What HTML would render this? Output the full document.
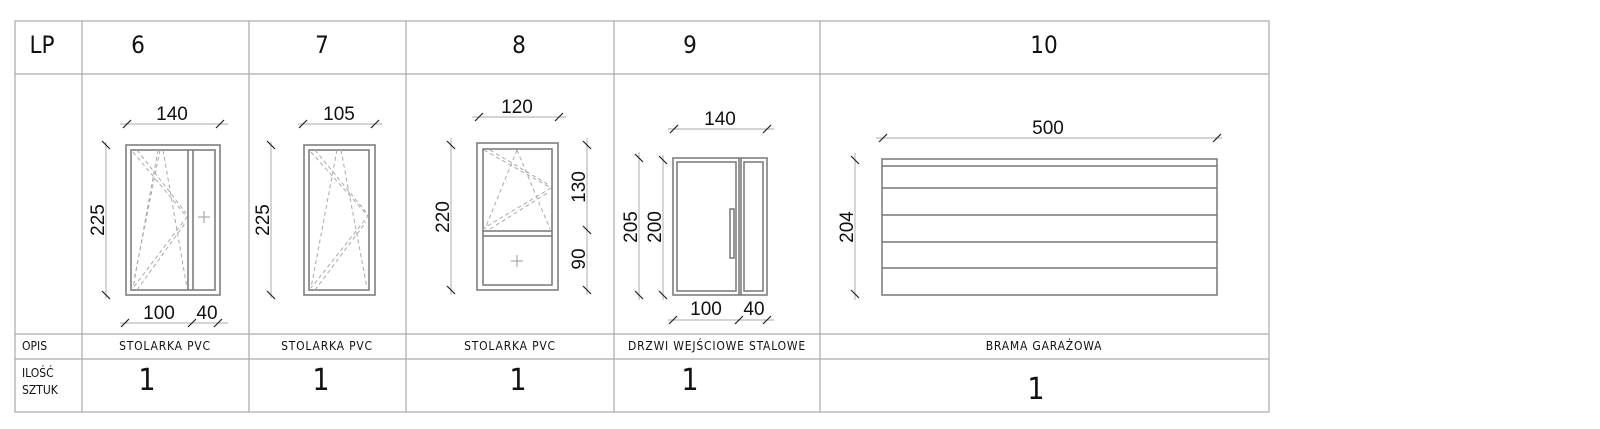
<!DOCTYPE html>
<html><head><meta charset="utf-8"><style>
html,body{margin:0;padding:0;background:#fff;}
svg{display:block}
text{font-family:"DejaVu Sans Condensed","Liberation Sans Narrow","DejaVu Sans",sans-serif;fill:#111}
.d{font-family:"Liberation Sans",sans-serif;font-size:19px;fill:#111}
.g{stroke:#aaa;stroke-width:1.2;fill:none}
.dl{stroke:#bbb;stroke-width:1.2;fill:none}
.t{stroke:#222;stroke-width:1.2}
.w{stroke:#777;stroke-width:1.5;fill:none}
.ds{stroke:#aaa;stroke-width:1;stroke-dasharray:4 3;fill:none}
</style></head><body>
<svg width="1600" height="429" viewBox="0 0 1600 429" xmlns="http://www.w3.org/2000/svg">
<rect x="15" y="21" width="1254" height="391" class="g"/>
<line x1="15" y1="74" x2="1269" y2="74" class="g"/>
<line x1="15" y1="334" x2="1269" y2="334" class="g"/>
<line x1="15" y1="359" x2="1269" y2="359" class="g"/>
<line x1="82" y1="21" x2="82" y2="412" class="g"/>
<line x1="249" y1="21" x2="249" y2="412" class="g"/>
<line x1="406" y1="21" x2="406" y2="412" class="g"/>
<line x1="614" y1="21" x2="614" y2="412" class="g"/>
<line x1="820" y1="21" x2="820" y2="412" class="g"/>

<g font-size="24" text-anchor="middle">
<text x="42" y="53">LP</text>
<text x="138" y="53">6</text>
<text x="322" y="53">7</text>
<text x="519" y="53">8</text>
<text x="690" y="53">9</text>
<text x="1044" y="53">10</text>
</g>
<g font-size="12">
<text x="22" y="350">OPIS</text>
<text x="22" y="377">ILOŚĆ</text>
<text x="22" y="394">SZTUK</text>
</g>
<g font-size="12" text-anchor="middle" letter-spacing="0.8">
<text x="165" y="350">STOLARKA PVC</text>
<text x="327" y="350">STOLARKA PVC</text>
<text x="510" y="350">STOLARKA PVC</text>
<text x="717" y="350">DRZWI WEJŚCIOWE STALOWE</text>
<text x="1044" y="350">BRAMA GARAŻOWA</text>
</g>
<g font-size="30" text-anchor="middle">
<text x="147" y="390">1</text>
<text x="321" y="390">1</text>
<text x="518" y="390">1</text>
<text x="690" y="390">1</text>
<text x="1036" y="399">1</text>
</g>

<!-- COL 6 -->
<line x1="120" y1="124" x2="228" y2="124" class="dl"/>
<line x1="123" y1="128" x2="131" y2="120" class="t"/><line x1="216" y1="128" x2="224" y2="120" class="t"/>
<text x="172" y="120" class="d" text-anchor="middle">140</text>
<line x1="106" y1="142" x2="106" y2="298" class="dl"/>
<line x1="102" y1="141" x2="110" y2="149" class="t"/><line x1="102" y1="291" x2="110" y2="299" class="t"/>
<text class="d" text-anchor="middle" transform="translate(104,220) rotate(-90)">225</text>
<rect x="126" y="145" width="94" height="150" class="w"/>
<rect x="131" y="150" width="84" height="140" class="w" stroke-width="1.2"/>
<line x1="188" y1="150" x2="188" y2="290" class="w" stroke-width="1.2"/>
<line x1="193" y1="150" x2="193" y2="290" class="w" stroke-width="1.2"/>
<line x1="198" y1="217" x2="210" y2="217" stroke="#999"/><line x1="204" y1="211" x2="204" y2="223" stroke="#999"/>
<path d="M158 150 L133 288 M163 150 L187 288 M133 152 L187 217 L133 288 M137 150 L186 213 M137 290 L186 222 M160 150 L134 280" class="ds"/>
<line x1="120" y1="323" x2="228" y2="323" class="dl"/>
<line x1="121" y1="327" x2="129" y2="319" class="t"/><line x1="188" y1="327" x2="196" y2="319" class="t"/><line x1="214" y1="327" x2="222" y2="319" class="t"/>
<text x="159" y="319" class="d" text-anchor="middle">100</text>
<text x="207" y="319" class="d" text-anchor="middle">40</text>

<!-- COL 7 -->
<line x1="298" y1="124" x2="382" y2="124" class="dl"/>
<line x1="299" y1="128" x2="307" y2="120" class="t"/><line x1="371" y1="128" x2="379" y2="120" class="t"/>
<text x="339" y="120" class="d" text-anchor="middle">105</text>
<line x1="271" y1="142" x2="271" y2="298" class="dl"/>
<line x1="267" y1="141" x2="275" y2="149" class="t"/><line x1="267" y1="291" x2="275" y2="299" class="t"/>
<text class="d" text-anchor="middle" transform="translate(269,220) rotate(-90)">225</text>
<rect x="304" y="145" width="71" height="150" class="w"/>
<rect x="309" y="150" width="60" height="140" class="w" stroke-width="1.2"/>
<path d="M337 150 L311 288 M341 150 L367 288 M311 152 L368 216 L311 288 M315 150 L366 212 M315 290 L366 222" class="ds"/>

<!-- COL 8 -->
<line x1="472" y1="117" x2="566" y2="117" class="dl"/>
<line x1="475" y1="121" x2="483" y2="113" class="t"/><line x1="555" y1="121" x2="563" y2="113" class="t"/>
<text x="517" y="113" class="d" text-anchor="middle">120</text>
<line x1="451" y1="138" x2="451" y2="295" class="dl"/>
<line x1="447" y1="141" x2="455" y2="149" class="t"/><line x1="447" y1="286" x2="455" y2="294" class="t"/>
<text class="d" text-anchor="middle" transform="translate(449,217) rotate(-90)">220</text>
<line x1="587" y1="138" x2="587" y2="295" class="dl"/>
<line x1="583" y1="141" x2="591" y2="149" class="t"/><line x1="583" y1="226" x2="591" y2="234" class="t"/><line x1="583" y1="286" x2="591" y2="294" class="t"/>
<text class="d" text-anchor="middle" transform="translate(585,187) rotate(-90)">130</text>
<text class="d" text-anchor="middle" transform="translate(585,259) rotate(-90)">90</text>
<rect x="477" y="143" width="81" height="147" class="w"/>
<rect x="483" y="149" width="69" height="136" class="w" stroke-width="1.2"/>
<line x1="483" y1="231" x2="552" y2="231" class="w" stroke-width="1.2"/>
<line x1="483" y1="236" x2="552" y2="236" class="w" stroke-width="1.2"/>
<line x1="511" y1="261" x2="523" y2="261" stroke="#999"/><line x1="517" y1="255" x2="517" y2="267" stroke="#999"/>
<path d="M517 150 L485 229 M517 150 L550 229 M484 150 L551 188 L484 228 M490 150 L549 185 M490 229 L549 192" class="ds"/>

<!-- COL 9 -->
<line x1="668" y1="129" x2="774" y2="129" class="dl"/>
<line x1="670" y1="133" x2="678" y2="125" class="t"/><line x1="763" y1="133" x2="771" y2="125" class="t"/>
<text x="720" y="125" class="d" text-anchor="middle">140</text>
<line x1="639" y1="152" x2="639" y2="300" class="dl"/>
<line x1="635" y1="154" x2="643" y2="162" class="t"/><line x1="635" y1="291" x2="643" y2="299" class="t"/>
<text class="d" text-anchor="middle" transform="translate(637,227) rotate(-90)">205</text>
<line x1="663" y1="155" x2="663" y2="300" class="dl"/>
<line x1="659" y1="156" x2="667" y2="164" class="t"/><line x1="659" y1="291" x2="667" y2="299" class="t"/>
<text class="d" text-anchor="middle" transform="translate(661,227) rotate(-90)">200</text>
<rect x="673" y="158" width="94" height="137" class="w"/>
<line x1="739" y1="158" x2="739" y2="295" class="w" stroke-width="1.2"/>
<line x1="741" y1="158" x2="741" y2="295" class="w" stroke-width="1.2"/>
<rect x="677" y="162" width="59" height="129" class="w" stroke-width="1.2"/>
<rect x="744" y="162" width="19" height="129" class="w" stroke-width="1.2"/>
<rect x="730" y="209" width="4" height="49" class="w" stroke-width="1.2"/>
<line x1="668" y1="320" x2="774" y2="320" class="dl"/>
<line x1="669" y1="324" x2="677" y2="316" class="t"/><line x1="735" y1="324" x2="743" y2="316" class="t"/><line x1="763" y1="324" x2="771" y2="316" class="t"/>
<text x="706" y="315" class="d" text-anchor="middle">100</text>
<text x="754" y="315" class="d" text-anchor="middle">40</text>

<!-- COL 10 -->
<line x1="876" y1="138" x2="1222" y2="138" class="dl"/>
<line x1="879" y1="142" x2="887" y2="134" class="t"/><line x1="1213" y1="142" x2="1221" y2="134" class="t"/>
<text x="1048" y="134" class="d" text-anchor="middle">500</text>
<line x1="855" y1="153" x2="855" y2="300" class="dl"/>
<line x1="851" y1="156" x2="859" y2="164" class="t"/><line x1="851" y1="290" x2="859" y2="298" class="t"/>
<text class="d" text-anchor="middle" transform="translate(853,227) rotate(-90)">204</text>
<rect x="882" y="159" width="335" height="136" class="w"/>
<g class="w" stroke-width="1.3">
<line x1="882" y1="166" x2="1217" y2="166"/>
<line x1="882" y1="188" x2="1217" y2="188"/>
<line x1="882" y1="215" x2="1217" y2="215"/>
<line x1="882" y1="242" x2="1217" y2="242"/>
<line x1="882" y1="268" x2="1217" y2="268"/>
</g>
</svg>
</body></html>
